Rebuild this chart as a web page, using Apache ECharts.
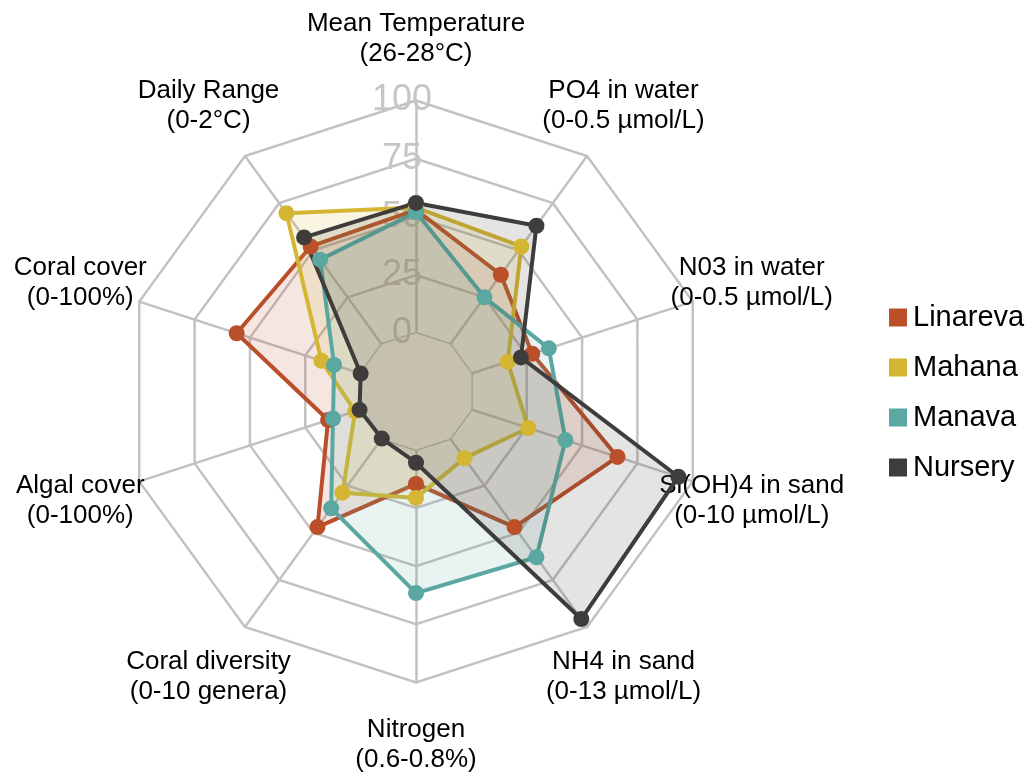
<!DOCTYPE html>
<html>
<head>
<meta charset="utf-8">
<script src="https://cdn.jsdelivr.net/npm/echarts@6/dist/echarts.min.js"></script>
<style>
html, body { margin: 0; padding: 0; background: #fff; }
#chart { width: 1035px; height: 773px; }
</style>
</head>
<body>
<div id="chart"></div>
<script>
// axes clockwise from the top
const categories = [
  'Mean Temperature\n(26-28°C)',
  'PO4 in water\n(0-0.5 µmol/L)',
  'N03 in water\n(0-0.5 µmol/L)',
  'Si(OH)4 in sand\n(0-10 µmol/L)',
  'NH4 in sand\n(0-13 µmol/L)',
  'Nitrogen\n(0.6-0.8%)',
  'Coral diversity\n(0-10 genera)',
  'Algal cover\n(0-100%)',
  'Coral cover\n(0-100%)',
  'Daily Range\n(0-2°C)'
]
const sites = ['Linareva', 'Mahana', 'Manava', 'Nursery']
const linareva = [53, 37, 27.5, 66, 47, 14.7, 47, 14.7, 56, 52]
const mahana = [54, 52, 16.4, 25.7, 10.4, 20.7, 28.7, 2.5, 17.7, 69.7]
const manava = [52, 25, 35, 42.5, 63, 61.6, 37, 12.5, 12, 45]
const nursery = [56, 63, 22.4, 93.5, 95.8, 5.6, 0, 0.5, 0, 56.8]
const zeroRing = [0, 0, 0, 0, 0, 0, 0, 0, 0, 0]
const tickLabels = [0, 25, 50, 75, 100]
const colors = ['#BA4F2A', '#D5B632', '#5BA7A1', '#3E3D3C']

const gridColor = '#c4c1c1'
const font = 'Liberation Sans, Arial, Helvetica, sans-serif'

// echarts lays indicators out counter-clockwise, so flip the order after the first one
const order = [0, 9, 8, 7, 6, 5, 4, 3, 2, 1]
const flip = arr => order.map(i => arr[i])

const values = [linareva, mahana, manava, nursery]

const chart = echarts.init(document.getElementById('chart'))

const baseRadar = {
  center: [416, 391.5],
  radius: 291,
  shape: 'polygon',
  startAngle: 90,
  splitNumber: 5,
  splitArea: { show: false }
}

const option = {
  animation: false,
  textStyle: { fontFamily: font },
  legend: {
    orient: 'vertical',
    left: 884,
    top: 298,
    data: sites,
    icon: 'rect',
    itemWidth: 18,
    itemHeight: 18,
    itemGap: 21,
    textStyle: { fontSize: 29, color: '#000', fontFamily: font, padding: [0, 0, 0, 1] }
  },
  radar: [
    Object.assign({}, baseRadar, {
      z: 0,
      axisNameGap: 62,
      axisName: {
        color: '#000',
        fontSize: 26,
        lineHeight: 30,
        fontFamily: font,
        align: 'center',
        verticalAlign: 'middle'
      },
      splitLine: { lineStyle: { color: gridColor, width: 2.5 } },
      axisLine: { lineStyle: { color: gridColor, width: 2.5 } },
      axisTick: { show: false },
      axisLabel: { show: false },
      indicator: flip(categories).map(name => ({ name: name, min: -25, max: 100 }))
    }),
    // second radar only carries the tick labels, above the white centre patch
    Object.assign({}, baseRadar, {
      z: 2,
      axisName: { show: false },
      splitLine: { show: false },
      axisLine: { show: false },
      axisTick: { show: false },
      axisLabel: { show: false },
      indicator: flip(categories).map((name, i) => ({
        name: name,
        min: -25,
        max: 100,
        axisLabel: i === 0 ? {
          show: true,
          fontSize: 36,
          color: '#c9c5c4',
          fontFamily: font,
          margin: 14,
          align: 'center',
          verticalAlign: 'middle',
          formatter: v => tickLabels.indexOf(v) >= 0 ? String(v) : ''
        } : { show: false }
      }))
    })
  ],
  series: [
    {
      // hides the spokes inside the 0 ring
      type: 'radar',
      radarIndex: 0,
      z: 1,
      silent: true,
      symbol: 'none',
      lineStyle: { color: gridColor, width: 2.5 },
      areaStyle: { color: '#fff', opacity: 1 },
      data: [{ value: zeroRing }]
    }
  ].concat(sites.map((s, k) => ({
    type: 'radar',
    radarIndex: 0,
    z: 3,
    name: s,
    symbol: 'circle',
    symbolSize: 16,
    itemStyle: { color: colors[k] },
    lineStyle: { color: colors[k], width: 4 },
    areaStyle: { color: colors[k], opacity: 0.14 },
    data: [{ name: s, value: flip(values[k]) }]
  })))
}

chart.setOption(option)
</script>
</body>
</html>
